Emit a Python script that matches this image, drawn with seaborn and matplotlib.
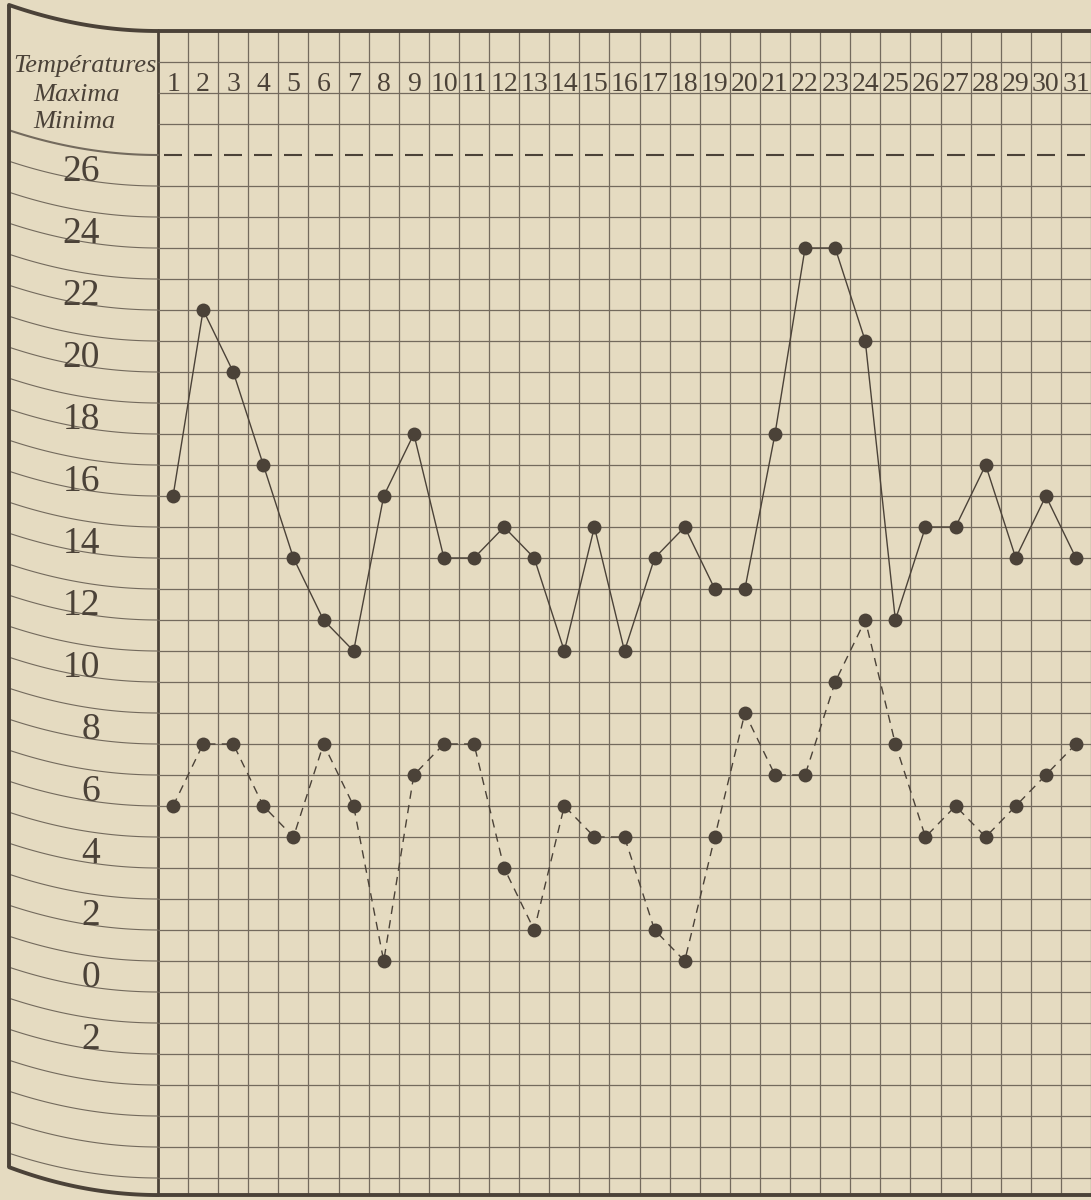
# Relevé mensuel des températures maxima et minima

import numpy as np
import pandas as pd
import seaborn as sns
import matplotlib.pyplot as plt

jours = list(range(1, 32))
maxima = [16, 22, 20, 17, 14, 12, 11, 16, 18, 14, 14, 15, 14, 11, 15, 11,
          14, 15, 13, 13, 18, 24, 24, 21, 12, 15, 15, 17, 14, 16, 14]
minima = [6, 8, 8, 6, 5, 8, 6, 1, 7, 8, 8, 4, 2, 6, 5, 5,
          2, 1, 5, 9, 7, 7, 10, 12, 8, 5, 6, 5, 6, 7, 8]
graduations = [26, 24, 22, 20, 18, 16, 14, 12, 10, 8, 6, 4, 2, 0, -2]
etiquettes = ["26", "24", "22", "20", "18", "16", "14", "12", "10",
              "8", "6", "4", "2", "0", "2"]
en_tete = ["Températures", "Maxima", "Minima"]

df = pd.DataFrame({"jour": jours, "maxima": maxima, "minima": minima})

papier = "#e5dbc1"
encre = "#4b4238"
trait = "#736a5d"

sns.set_theme(style="white")
plt.rcParams["font.family"] = ["Liberation Serif", "DejaVu Serif"]

fig = plt.figure(figsize=(10.91, 12), dpi=100, facecolor=papier)
ax = fig.add_axes([0, 0, 1, 1])
ax.set_xlim(-4.75, 31.5)
ax.set_ylim(-6.71, 32.0)
ax.axis("off")

# Quadrillage
bas, haut = -6.55, 31
x0, x1 = 0.5, 31.5
xg = -4.45  # bord gauche de la page
ax.vlines(np.arange(1.5, 32.0), bas, haut, color=trait, lw=0.9)
ax.vlines(x0, bas, haut, color=encre, lw=2.0)
lignes = [v for v in range(-6, 31) if v != 27]
ax.hlines(lignes, x0, x1, color=trait, lw=0.9)
j = np.array(jours)
ax.hlines([27] * len(j), j - 0.3, j + 0.3, color=encre, lw=1.5)
ax.hlines([haut, bas], x0, x1, color=encre, lw=2.8)

# Colonne de gauche : réglures courbées
xs = np.linspace(xg, x0, 60)
t = (xs - xg) / (x0 - xg)
for v in range(-6, 28):
    ax.plot(xs, v + 0.8 * (1 - t) ** 2, color=trait,
            lw=1.5 if v == 27 else 0.8)
ax.plot(xs, haut + 0.84 * (1 - t) ** 2, color=encre, lw=2.8)
ax.plot(xs, bas + 0.9 * (1 - t) ** 2, color=encre, lw=2.8)
ax.vlines(xg, bas + 0.9, haut + 0.84, color=encre, lw=2.8)

for v, lab in zip(graduations, etiquettes):
    ax.text(-1.43, v + 0.15, lab, ha="right", va="baseline",
            fontsize=27, color=encre)

ax.text(-4.32, 29.68, en_tete[0], fontsize=19, style="italic",
        color=encre, va="baseline")
ax.text(-3.65, 28.74, en_tete[1], fontsize=19, style="italic",
        color=encre, va="baseline")
ax.text(-3.65, 27.87, en_tete[2], fontsize=19, style="italic",
        color=encre, va="baseline")

for d in jours:
    ax.text(d, 29.05, str(d), ha="center", va="baseline",
            fontsize=20, color=encre)

# Courbes
sns.lineplot(data=df, x="jour", y="maxima", ax=ax, color=encre,
             lw=1.0, marker="o", markersize=10, mec=encre, mew=0)
sns.lineplot(data=df, x="jour", y="minima", ax=ax, color=encre,
             lw=1.0, linestyle=(0, (6, 4.5)), marker="o",
             markersize=10, mec=encre, mew=0)
ax.axis("off")

plt.savefig("out.png", dpi=100, facecolor=papier)
